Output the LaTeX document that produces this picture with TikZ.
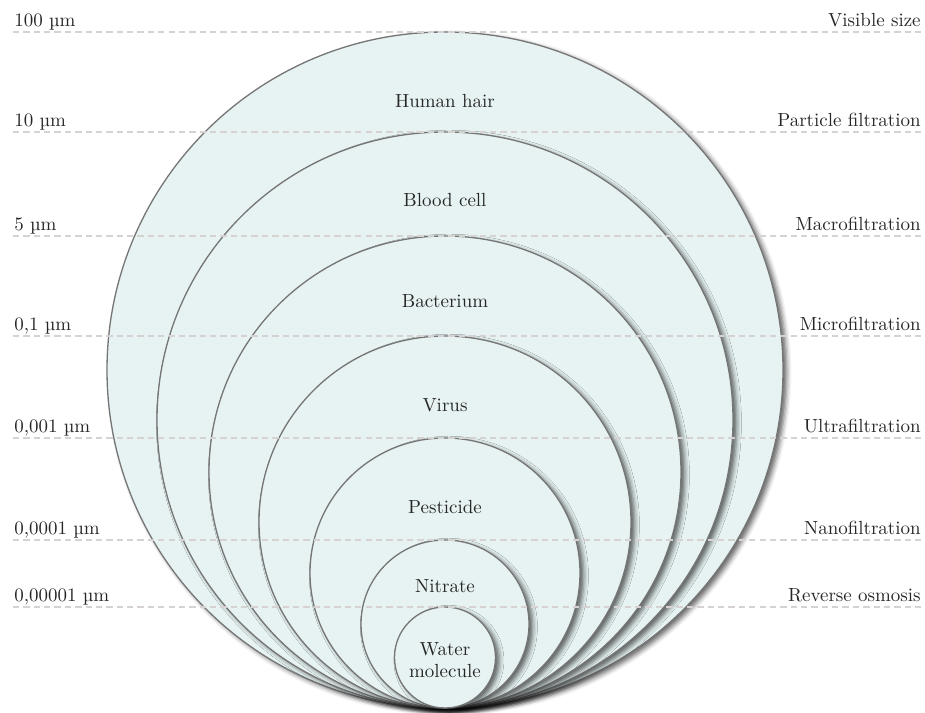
\documentclass[tikz,border=0pt]{standalone}
\usepackage{fontspec}
\usepackage{tikz}
\usetikzlibrary{shadows.blur}
\definecolor{cFill}{HTML}{E7F3F3}
\definecolor{cEdge}{HTML}{767676}
\definecolor{cDash}{HTML}{D6D2D2}
% one size level: y, name, left text, right text
\newcommand{\lvl}[4]{%
  \draw[level] (0.26,#1) coordinate (#2w) -- (18.44,#1) coordinate (#2e);
  \node[lbl, anchor=base west] (#2l) at ([shift={(0.02,0.1)}]#2w) {#3};
  \node[lbl, anchor=base east] (#2r) at ([shift={(-0.02,0.1)}]#2e) {#4};}
% one particle: radius, name, label y, label
\newcommand{\ptc}[4]{%
  \draw[ball] (8.9,{0.1+#1}) circle (#1);
  \node[lbl, align=center] (#2) at (8.9,#3) {#4};}

\begin{document}
\begin{tikzpicture}[x=1cm, y=1cm,
  ball/.style={draw=cEdge, line width=0.75pt, fill=cFill,
    blur shadow={shadow xshift=2.2pt, shadow yshift=-1.6pt, shadow blur radius=2.6pt, shadow opacity=60}},
  level/.style={draw=cDash, line width=0.9pt, dash pattern=on 3.6pt off 2.3pt},
  lbl/.style={inner sep=0pt, text=black!85, font=\fontsize{10.8}{12.5}\selectfont}]
\useasboundingbox (0,0) rectangle (18.5,14.26);
% ---- the particles, largest first; all touch at the bottom ----
\ptc{6.76}{hair}{12.24}{Human hair}
\ptc{5.76}{blood}{10.26}{Blood cell}
\ptc{4.72}{bact}{8.24}{Bacterium}
\ptc{3.72}{virus}{6.16}{Virus}
\ptc{2.70}{pest}{4.12}{Pesticide}
\ptc{1.68}{nitr}{2.54}{Nitrate}
\ptc{1.01}{water}{1.06}{Water\\ molecule}
% ---- size levels and filtration names ----
\lvl{13.62}{a}{100 µm}{Visible size}
\lvl{11.62}{b}{10 µm}{Particle filtration}
\lvl{9.54}{c}{5 µm}{Macrofiltration}
\lvl{7.54}{d}{0,1 µm}{Microfiltration}
\lvl{5.50}{e}{0,001 µm}{Ultrafiltration}
\lvl{3.46}{f}{0,0001 µm}{Nanofiltration}
\lvl{2.12}{g}{0,00001 µm}{Reverse osmosis}
\end{tikzpicture}
\end{document}
